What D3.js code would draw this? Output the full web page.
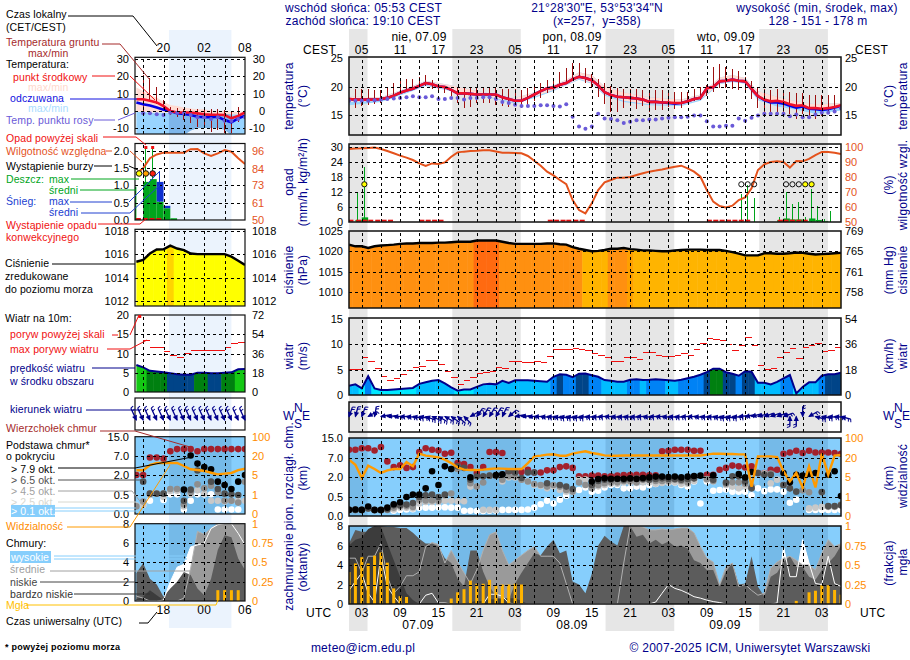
<!DOCTYPE html>
<html>
<head>
<meta charset="utf-8">
<script src="https://cdnjs.cloudflare.com/ajax/libs/d3/7.8.5/d3.min.js"></script>
<style>
  html, body { margin: 0; background: #fff; }
  svg text { font-family: "Liberation Sans", Arial, sans-serif; font-size: 12px; letter-spacing: 0.25px; white-space: pre; }
  .grid line { stroke: #000; stroke-width: 1; stroke-dasharray: 3 3; shape-rendering: crispEdges; }
  .grid path { display: none; }
  .ticks path { display: none; }
  .ticks text { letter-spacing: 0; }
  .caption { letter-spacing: 0.1px !important; }
</style>
</head>
<body>
<svg id="svg" width="910" height="660"></svg>
<script>
// ---- main meteogram, one value per hour (hour 0 = 00 UTC 07.09) ----
const mainHours = d3.range(1, 79);
const mainTemp = [17.8,17.7,17.7,17.7,17.7,17.8,18.0,18.4,18.9,19.3,19.6,20.1,20.6,20.4,20.0,19.9,19.4,18.8,18.8,18.7,18.6,18.6,18.6,18.6,18.1,17.8,17.5,17.5,18.0,18.6,19.2,19.7,19.8,20.3,20.6,21.3,21.7,21.5,21.1,20.2,19.0,18.5,18.2,18.1,18.0,17.9,17.7,17.3,17.3,17.2,17.2,17.1,17.1,17.4,17.8,18.0,19.7,19.9,20.9,21.0,21.2,21.0,20.9,19.6,18.3,17.7,17.4,17.5,17.3,16.9,16.6,16.7,16.2,16.2,16.1,16.2,16.4,16.7];
const mainFeel = [17.8,17.7,17.7,17.7,17.7,17.8,18.0,18.4,18.9,19.3,19.6,20.1,20.6,20.4,20.0,19.9,19.4,18.8,18.8,18.7,18.6,18.6,18.6,18.6,18.1,17.8,17.5,17.5,18.0,18.6,19.2,19.7,19.8,20.3,20.6,21.3,21.7,21.5,21.1,20.2,19.0,18.5,18.2,18.1,18.0,17.9,17.7,17.3,17.3,17.2,17.1,17.0,17.1,17.4,17.8,18.0,19.7,19.9,20.9,21.0,21.2,21.0,20.9,19.6,18.3,17.6,17.2,17.2,17.0,16.6,16.3,16.5,16.1,16.0,15.9,16.0,16.3,16.6];
const mainDew = [17.5,17.5,17.5,17.5,17.6,17.7,17.8,17.9,18.0,18.1,18.3,18.1,18.1,18.3,17.8,17.8,18.0,18.0,17.7,18.0,18.0,18.1,18.1,17.8,17.3,17.1,16.8,16.6,16.6,16.6,16.7,16.7,16.6,16.5,16.9,14.7,13.0,12.6,13.0,15.2,14.4,14.3,14.1,13.6,13.8,14.1,14.1,14.2,14.2,14.4,14.5,14.6,14.6,14.7,14.9,14.9,13.9,13.0,13.0,13.1,13.1,14.4,14.0,14.5,14.9,15.2,15.2,15.2,15.2,14.8,15.1,14.6,14.6,15.1,15.4,15.4,15.6,16.2];
const mainGroundMax = [null,19.5,19.5,19.5,19.4,19.4,19.9,20.6,21.3,21.3,21.3,21.7,22.0,21.2,20.3,19.7,19.5,19.7,19.7,19.9,19.9,19.7,19.7,19.7,19.5,19.5,19.5,19.4,19.7,20.3,20.6,21.2,21.5,22.6,23.3,24.2,24.1,23.2,22.2,21.3,20.6,20.1,19.7,19.6,19.6,19.5,19.4,19.3,19.3,19.3,19.0,19.0,19.0,19.1,19.5,19.9,20.3,23.5,23.9,23.5,23.0,22.8,21.7,20.9,19.7,19.5,19.4,19.5,19.4,19.0,18.8,18.8,18.5,18.5,18.5,18.5,18.5,16.8];
const mainGroundMin = [null,16.2,16.6,16.8,17.0,17.1,17.8,18.3,18.8,19.3,19.5,19.9,20.1,19.5,19.1,18.8,18.3,17.1,16.2,16.4,17.1,17.1,17.1,16.8,16.5,16.4,16.5,16.2,16.8,17.4,18.0,18.8,19.4,19.9,20.6,21.3,21.5,20.6,19.7,18.1,17.0,15.6,15.5,16.2,16.6,16.1,16.5,15.6,15.9,15.8,16.4,16.1,16.2,17.1,17.4,17.7,18.3,19.1,19.7,19.7,19.5,19.4,19.3,17.8,16.2,15.6,15.4,15.5,15.1,15.1,14.3,15.1,14.3,14.3,14.8,15.4,15.6,15.9];
const mainBandHours = [1,6,10,13,17,22,27,30,33,35,37,39,41,44,48,53,56,59,61,63,65,68,71,74,78];
const mainTempMax = [18.2,18.1,19.7,21.0,20.2,19.0,18.0,19.0,20.2,21.2,22.5,22.0,20.0,19.0,18.1,17.7,18.6,21.6,22.0,21.5,19.2,18.2,17.4,16.9,17.1];
const mainTempMin = [17.3,17.5,19.0,20.3,19.3,18.4,17.2,18.2,19.4,20.3,21.3,20.6,18.6,17.5,16.9,16.8,17.7,20.5,20.9,20.6,17.8,17.0,16.3,15.8,16.4];
const mainFeelMin = [16.7,17.3,18.8,20.1,19.2,18.3,17.0,18.0,19.2,20.2,21.2,20.5,18.4,17.3,16.7,16.6,17.5,20.4,20.8,20.5,17.6,16.5,15.9,15.2,15.8];

const mainHumidity = [98.7,99.0,99.1,99.4,99.6,98.7,97.3,95.8,94.2,92.9,91.3,89.0,87.3,89.0,88.6,89.7,93.5,96.4,96.9,97.3,97.5,97.8,97.8,97.0,96.2,96.2,96.0,95.8,94.0,90.8,87.5,83.5,81.0,77.9,75.2,64.5,57.8,55.6,62.3,71.2,76.3,77.9,79.5,79.5,79.9,81.3,82.4,83.5,84.2,85.0,85.9,86.8,87.5,85.7,83.5,80.1,71.2,63.4,60.5,59.6,60.7,64.5,66.3,72.3,84.6,88.4,90.0,90.4,90.0,86.2,90.6,90.4,92.0,94.6,96.7,96.7,96.2,95.3];
const mainRainHours = [2,3,62,63,64,68,69,70,71,72,73,74,75,76];
const mainRainMax = [12,22,11,14.8,9.4,2,12,7,7.8,2,13,6.3,1,4.4];
const mainRainMean = [0.7,1.75,0,0,0,0.6,1.3,0.9,0.9,0.3,1.3,0.7,0.3,0];
const mainConvective = [1.3,2.5,3.5,4.4,5.5,6.5,7.5,12.4,13.4,14.4,15.4,32.5,33.5,34.5,35.4,36.5,37.5,57.4,58.4,59.4,60.4,61.4,62.4,63.4,68.5,69.4,70.4,71.4,72.4];
const mainStormHours = [3.4,62.4,63.4,64.4,69.4,70.4,71.4,72.4,73.4];
const mainStormLevels = [1,0,0,0,0,0,0,1,1];

const mainPressure = [1021.6,1021.2,1021.2,1020.8,1021.2,1021.4,1021.5,1021.6,1021.8,1021.9,1021.9,1022.0,1022.0,1022.0,1022.1,1022.1,1022.2,1022.3,1022.3,1022.3,1022.6,1022.6,1022.6,1022.6,1022.3,1022.0,1021.8,1021.8,1021.8,1021.8,1021.8,1021.9,1021.9,1021.7,1021.6,1021.0,1020.6,1020.3,1020.0,1020.1,1020.3,1020.6,1020.6,1020.8,1020.5,1020.4,1020.2,1020.2,1020.1,1020.0,1020.0,1020.2,1020.3,1020.4,1020.4,1020.4,1020.3,1020.3,1020.3,1020.1,1019.8,1019.4,1019.0,1019.0,1019.0,1019.5,1019.5,1019.4,1019.4,1019.5,1019.7,1019.6,1019.4,1019.2,1019.3,1019.4,1019.5,1019.6];
const mainWind = [1.8,2.1,1.3,3.7,1.3,1.0,1.0,1.1,1.2,1.3,1.4,2.2,2.5,2.8,2.95,2.3,1.5,0.85,1.1,1.1,1.6,2.1,2.2,2.1,2.8,2.4,2.9,2.9,2.9,2.8,2.7,2.6,3.6,4.1,4.0,3.5,4.2,4.25,3.9,3.6,2.95,2.8,2.6,2.6,3.0,3.1,2.95,3.0,3.1,3.0,2.9,2.8,3.0,3.3,3.6,4.0,4.5,5.2,5.2,4.5,4.2,3.8,4.7,4.6,2.4,2.4,2.1,2.6,3.3,3.95,0.3,1.6,2.5,2.5,3.8,4.1,4.1,4.4];
const mainGust = [5.0,5.0,7.4,6.6,5.2,3.7,2.9,3.3,4.1,4.8,5.4,5.6,6.9,6.8,6.1,4.6,3.5,2.1,2.9,3.5,4.3,4.4,4.6,5.4,5.2,6.6,6.6,6.4,6.4,6.6,6.4,7.6,9.0,9.0,9.0,9.2,9.0,8.8,8.2,7.7,7.5,6.6,6.6,7.5,7.5,7.0,8.45,8.45,7.8,7.6,7.6,7.8,8.2,7.8,9.0,10.15,11.1,11.0,10.7,9.95,8.8,9.75,11.3,9.8,5.8,5.0,5.2,7.4,8.45,9.2,7.2,9.4,9.75,10.15,8.6,8.8,9.4];
const mainWindDir = [20,15,20,60,10,80,85,90,90,95,100,100,110,115,120,120,125,130,135,60,35,30,30,30,25,50,80,85,90,90,95,95,100,100,100,100,95,95,95,90,90,95,95,95,95,90,95,90,90,95,95,95,90,90,95,95,95,100,100,100,95,85,80,75,75,70,70,70,70,180,180,0,60,105,100,95,95,105];

const mainTops = [10.3,10.3,10.9,10.9,10.0,11.4,6.1,4.6,5.1,4.4,4.6,9.4,10.9,10.3,10.0,8.7,9.1,5.7,5.4,4.6,3.05,4.6,9.4,9.4,9.0,3.3,3.3,3.3,3.9,3.2,3.2,3.75,3.75,4.6,4.8,4.4,2.2,2.2,2.35,2.35,2.2,2.2,2.35,2.5,2.5,2.6,2.6,2.45,2.45,9.7,9.9,10.3,10.3,10.3,9.9,9.9,2.6,2.6,3.9,4.4,5.0,4.8,4.5,4.8,3.05,3.05,3.9,3.9,8.7,9.2,9.9,9.0,9.9,9.2,9.2,9.2,9.0,8.7];
const mainBase79 = [0.16,0.17,0.16,0.25,0.16,0.16,0.22,0.31,0.36,0.5,0.68,0.68,1.15,3.5,1.4,4.8,4.1,null,null,1.97,null,null,null,2.5,2.7,null,null,null,null,null,null,null,null,null,null,null,null,null,1.66,1.85,1.9,1.87,1.87,1.87,1.9,1.85,1.92,1.97,2.1,2.1,2.0,2.1,1.97,2.1,2.25,2.35,null,2.45,null,null,null,2.8,1.97,3.3,null,null,null,null,3.05,1.6,2.6,2.35,2.8,3.05,null,2.6,3.5,0.58];
const mainBase65 = [0.16,0.16,0.16,0.2,0.15,0.15,0.18,0.28,0.28,0.3,0.34,0.5,0.63,0.68,0.5,0.68,4.1,4.8,4.4,1.8,2.2,2.2,2.35,2.35,2.6,3.5,3.2,1.92,3.2,3.2,null,1.53,null,1.4,1.28,1.1,null,null,1.4,1.7,1.8,1.8,1.85,1.8,1.85,1.9,1.85,1.8,1.85,1.9,1.85,1.85,1.8,1.85,1.9,null,null,1.8,null,1.59,2.2,2.2,1.66,1.15,3.05,2.6,2.6,null,1.4,1.15,0.9,null,null,null,0.88,0.26,0.26,0.28];
const mainBase45 = [0.16,0.16,0.16,0.2,0.16,0.16,0.16,0.22,0.26,0.26,0.24,0.43,0.41,0.41,0.4,0.63,0.76,4.1,null,1.53,1.28,1.59,2.35,2.35,1.8,2.2,2.2,1.8,1.66,1.48,1.4,1.28,1.4,1.28,1.02,0.89,1.59,1.4,1.15,1.4,1.53,1.6,1.6,1.7,1.7,1.6,1.8,1.8,1.7,1.7,1.7,1.8,1.7,1.6,1.9,null,1.85,1.7,null,1.5,1.6,1.6,1.5,1.3,3.0,2.8,2.9,null,1.4,1.15,null,1.0,0.85,null,0.85,0.25,0.25,0.3];
const mainBase25 = [null,null,null,null,null,null,null,0.17,0.22,0.22,0.2,0.33,0.37,0.37,0.37,0.4,0.4,0.39,0.39,1.28,1.28,0.16,0.16,0.16,1.66,1.97,1.97,1.8,1.66,1.4,1.33,1.15,1.28,1.02,0.89,null,1.8,1.8,1.3,1.3,1.4,1.5,1.5,1.6,1.6,1.55,1.6,1.6,1.5,1.55,1.6,1.6,1.5,1.5,1.7,null,1.8,1.66,null,1.4,1.28,1.15,1.28,1.15,null,3.0,1.53,1.8,1.4,null,null,null,0.2,0.22,0.24,0.24,0.24,0.28];
const mainBase01 = [null,null,null,null,null,null,null,0.14,0.16,0.17,0.18,0.22,0.22,0.22,0.23,0.23,0.22,0.22,0.14,0.14,0.13,0.13,0.14,0.14,0.16,0.16,0.16,0.16,0.17,0.22,0.31,0.4,0.33,0.43,0.6,0.89,1.02,1.22,0.89,0.97,1.22,1.4,1.4,1.15,1.15,1.28,1.22,1.4,1.48,1.59,1.59,1.59,1.4,1.28,1.66,0.33,1.66,0.97,1.02,1.07,0.89,0.89,0.89,0.63,1.15,0.94,1.07,1.07,0.89,0.35,0.43,null,0.16,0.16,0.16,0.16,0.16,0.16];
const mainVisibility = [18.7,14.7,4.8,13.9,11.3,8.2,10.3,11.3,11.3,16.8,13.4,37.3,29.3,26.7,22.7,18.7,16.0,12.6,10.8,10.5,10.5,10.8,11.3,11.8,11.6,11.3,11.3,11.3,16.0,26.7,29.3,33.3,34.7,29.3,29.3,37.3,42.7,46.7,40.0,36.0,30.5,29.3,29.3,30,30,30,30,30,30,30,30,30,30,30,30,30,33.3,37.3,37.3,36,36,34.7,34.7,3.07,26.7,26.7,26.7,24,9.5,4.1,8.2,2.9,13.4,2.9,37.3,6.8,29.3,32];

const mainHigh = [1.4,2.3,3.2,1.1,0.2,5.0,1.8,0.8,0,0,0,0,0.9,1.1,0.1,0.1,0,0,0,0,0,0,1.0,1.0,0.8,0.1,0,0,0,0,0,0,0,0,0,0,0,0,0,0,0,0,0,0,0,0,0,0,0.2,1.1,2.0,1.6,1.4,1.1,0.75,0.6,0.4,0.25,0.15,0,0,0,0,0,0,0,0,0.1,5.9,2.8,2.8,6.6,4.2,2.1,2.0,4.9,2.1,1.8];
const mainMid = [4.7,4.7,3.2,4.9,4.9,6.2,2.8,1.1,1.8,2.9,2.9,3.3,5.9,6.3,6.1,4.2,5.5,4.3,3.2,2.1,3.5,5.5,7.1,7.4,5.5,4.0,4.5,5.0,5.5,5.9,4.9,4.9,4.9,4.2,2.1,0,0,0,0,0,0,0,0,4.2,8.0,8.0,7.9,7.6,7.6,7.7,7.6,7.7,7.8,7.8,7.3,5.9,4.7,4.3,2.0,3.8,4.2,1.8,2.0,1.4,0.9,1.1,3.7,4.3,4.7,4.9,4.5,4.0,4.0,3.5,5.2,6.6,5.9,6.2];
const mainLow = [6.2,7.6,7.4,7.4,7.9,8.0,7.9,7.9,7.8,7.8,7.3,6.7,6.2,6.2,5.9,4.7,4.2,2.6,1.8,5.5,5.5,3.3,1.8,0.8,0.4,0.4,2.1,3.2,4.2,5.2,5.0,5.9,6.6,5.2,5.5,2.3,2.0,1.1,3.1,6.0,7.0,6.4,6.0,8.0,8.0,6.9,7.1,6.2,6.6,6.1,6.4,5.9,6.0,5.7,4.5,4.2,3.5,3.5,1.8,3.3,4.2,2.0,2.1,4.9,1.8,0.75,2.8,3.2,4.3,4.9,3.8,3.8,2.8,2.5,3.5,4.2,4.9,6.0];
const mainVeryLow = [6.0,6.6,6.8,7.7,8.0,7.9,6.2,4.5,2.8,1.1,0.4,0,0,0,0,0,0,0,0,0.2,0.3,0.3,0.5,0.5,0.6,0.6,0.6,0.3,0,0,0,0,0,0,0,0,0,0,0,0,0,0,0,0,0,0,0,0,0,0,0,0,0,0,0,0,0,0,0,0,0,0,0,0,0,0,0,0,0,0,0,0,0,0,0,0,0,0];
const mainFog = [0.41,0.52,0.6,0.52,0.62,0.66,0.53,0.2,0.1,0.09,0,0,0,0,0,0,0.07,0.15,0.19,0.3,0.26,0.26,0.31,0.24,0.25,0.25,0.26,0.25,0,0,0,0,0,0,0,0,0,0,0,0,0,0,0,0,0,0,0,0,0,0,0,0,0,0,0,0,0,0,0,0,0,0,0,0,0,0,0,0,0,0,0.04,0,0.15,0.17,0.24,0.24,0.18,0.12];

// ---- legend meteogram on the left, hours 14..30 ----
const leftHours = d3.range(14, 31);
const leftTemp = [6.7,6.7,5.8,4.8,2.7,-0.2,-1,-1,-1,-1.5,-2.1,-2.3,-2.3,-2.5,-4.4,-3,-1];
const leftFeel = [4.8,3.8,3.0,1.9,0.6,-0.2,-1.5,-1.9,-2.5,-3.5,-3.8,-3.8,-3.5,-5.4,-6.7,-4.4,-2.9];
const leftDew = [null,-1.5,-1.5,-2.1,-2.5,-1.2,-1.2,-1.5,-2.5,-3.8,-3.8,-4.8,-3.8,-5.8,-6.0,-4.8,-3.8];
const leftGroundMax = [null,20.6,18.7,13.5,6.2,1.9,1.7,1.3,1.3,1.3,1.3,1.3,0.8,0.4,-0.6,2.3,null];
const leftGroundMin = [null,-1.5,6.2,4.2,0.4,-2.5,-3.5,-5.4,-7.3,-9.2,-10.2,-12.1,-11.2,-13,-12.7,-6.3,null];
const leftTempMax = [13.5,11.5,9,7.7,5.2,3.3,2.7,1.9,1.3,0.8,0.8,0,0,-0.2,-0.6,-0.8,-0.2];
const leftTempMin = [-0.6,-0.6,-1,-1,-1,-1.2,-1.5,-1.5,-1.5,-1.7,-1.7,-1.7,-1.9,-1.9,-2.1,-2,-2];
const leftFeelMin = [-14,-14,-14,-14,-14,-14,-14,-14,-11.5,-10,-10,-10,-10,-11,-14,-14,-14];
const leftHumidity = [81,84.3,91,93.5,94.7,94.7,94.7,94.7,97,97.1,94.2,92.5,94.2,96.4,95.3,91,87.2];
const leftRainHours = [13.8,15,16,17,18,19];
const leftRainMean = [0.96,1.1,1.18,0.53,0.34,0.05];
const leftSnowMean = [0,0,0,0.57,0.07,0];
const leftRainMax = [1.4,2.1,2.1,0,0,0];
const leftSnowMax = [0,0,0,1.4,0,0];
const leftConvective = [14.3,15.3,16.3,17.3];
const leftStormHours = [14.4,15.4,16.4];
const leftStormLevels = [1,2,3];
const leftOverRain = [15.4,16.4];
const leftPressure = [1015.35,1015.5,1016.05,1016.4,1016.42,1016.73,1016.48,1016.34,1016.05,1016,1016,1016,1016,1016,1015.78,1015.44,1015.07];
const leftWind = [7,6.4,5.5,5.3,5.1,4.9,4.6,4.5,4.5,5.0,5.0,4.9,4.9,5.0,5.1,5.9,6.0];
const leftGust = [null,13.4,11.6,11.6,10.6,9.6,8.9,9.9,10.8,10.9,10.9,10.7,10.7,11.6,12.6,12.9];
const leftOverGust = [14.5];
const leftWindDir = [335,335,335,335,335,335,335,335,335,335,335,335,335,335,335,335,335];
const leftTops = [2,2,6.6,6.6,6.3,9,9.9,9.9,9.9,9,9.9,9.9,9.9,9.9,9.9,9.9,9.9];
const leftBase79 = [null,null,null,null,null,null,null,0.9,7.2,5,4.1,3.5,1.5,1.25,0.95,1.5,2];
const leftBase65 = [null,1.5,0.6,0.6,0.6,null,null,0.35,0.9,3.2,null,1.5,0.95,0.6,0.55,0.5,null];
const leftBase45 = [0.2,0.33,0.6,null,0.6,0.95,0.95,0.25,0.7,1.3,1,1.2,0.7,0.35,0.35,0.3,1.5];
const leftBase25 = [0.22,0.24,0.5,0.6,0.45,0.8,0.82,0.2,0.55,0.85,0.6,0.35,0.35,0.33,0.35,0.35,0.35];
const leftBase01 = [null,0.24,0.35,null,0.37,0.55,0.55,0.12,0.35,0.55,0.55,0.55,0.12,0.12,0.12,0.12,null];
const leftVisibility = [8.7,8.7,12.9,14.5,14.5,14.5,14.5,12.1,9.5,8.9,8.2,6.8,5.5,6.1,6.6,8.9,10];
const leftHigh = [0,0,0,0,0.1,2,3.5,3.8,5.6,5.8,6,7.5,7.9,8,8,7,5.8];
const leftMid = [0.5,0.3,0,0,0,0,0,0.3,3.4,7.2,6.9,7.5,8,8,8,8,8];
const leftLow = [2.9,3.9,2.3,1.7,0.45,1.3,2,3,2.7,1.3,0.6,2.3,5.3,6.8,6.6,4.4,3.2];
const leftVeryLow = [0.2,0.45,1.1,0.6,0.1,0,0,0,0,0,0,0,0,0,0,0,0];
const leftFog = [0,0,0,0,0,0,0,0,0,0,0,0,0.14,0.14,0.14,0.14,0];

// night bands, hours
const mainNights = [[1,3.9],[17.17,27.88],[41.15,51.9],[65.2,75.95]];
const leftNights = [[18.8,28]];

// tick labels
const tempTicksMain = [15,20,25];
const tempTicksLeft = [-10,0,10,20,30];
const rainTicksMain = [0,6,12,18,24,30];
const humTicksMain = [50,60,70,80,90,100];
const rainTicksLeft = [0,0.5,1,1.5,2];
const humTicksLeft = [50,61,73,84,96];
const pressTicksMain = [1010,1015,1020,1025];
const mmHgLabels = [758,761,765,769];
const pressTicksLeft = [1012,1014,1016,1018];
const windTicksMain = [0,5,10,15];
const kmhTicksMain = [0,18,36,54];
const windTicksLeft = [0,5,10,15,20];
const kmhTicksLeft = [0,18,36,54,72];
const heightTicks = [0,0.5,2,7,15];
const visTicks = [0,1,5,20,100];
const coverTicks = [0,2,4,6,8];
const fracTicks = [0,0.25,0.5,0.75,1];
const hourLabels = d3.range(3, 78, 6);
const cestLabels = ["05","11","17","23","05","11","17","23","05","11","17","23","05"];
const utcLabels = ["03","09","15","21","03","09","15","21","03","09","15","21","03"];

const NAVY = "#00008b";
const svg = d3.select("#svg");
let clipCount = 0;

const pressColor = d3.scaleThreshold()
    .domain([1016.6, 1017.5, 1020.45, 1020.55, 1022.35])
    .range(["#ffff00", "#ffd400", "#ffb400", "#ffa000", "#ff9010", "#ff6a10"]);
const windColor = d3.scaleThreshold()
    .domain([1.5, 3, 4.05, 5, 5.8])
    .range(["#00e8ff", "#00bcff", "#0082f5", "#004488", "#008010", "#14c814"]);
const stormColor = d3.scaleOrdinal().domain([0,1,2,3]).range(["none", "#ffff00", "#ffa000", "#ff2010"]);

// one panel: group clipped to its box, with frame and grid added at the end
function makePanel(frame, box) {
    const id = "clip" + (clipCount++);
    svg.append("clipPath").attr("id", id).append("rect")
        .attr("x", frame.x0).attr("y", box.top)
        .attr("width", frame.x1 - frame.x0).attr("height", box.bottom - box.top);
    return svg.append("g").attr("clip-path", `url(#${id})`);
}

function finishPanel(frame, box, yScale, yTicks) {
    const w = frame.x1 - frame.x0;
    const h = box.bottom - box.top;
    svg.append("g").attr("class", "grid")
        .attr("transform", `translate(0,${box.bottom})`)
        .call(d3.axisBottom(frame.x).tickValues(frame.gridHours).tickSize(-h).tickFormat(""));
    if (yScale) {
        svg.append("g").attr("class", "grid")
            .attr("transform", `translate(${frame.x0},0)`)
            .call(d3.axisLeft(yScale).tickValues(yTicks.filter(t => yScale(t) > box.top + 1 && yScale(t) < box.bottom - 1))
                .tickSize(-w).tickFormat(""));
    }
    svg.append("rect").attr("x", frame.x0).attr("y", box.top).attr("width", w).attr("height", h)
        .attr("fill", "none").attr("stroke", "#111").attr("stroke-width", frame.frameWidth);
}

function leftAxis(frame, scale, ticks, fmt) {
    const g = svg.append("g").attr("class", "ticks")
        .attr("transform", `translate(${frame.x0 - 6},0)`)
        .call(d3.axisLeft(scale).tickValues(ticks).tickSize(0).tickPadding(0).tickFormat(fmt || (d => d)));
    g.selectAll("text").attr("fill", "#000").style("font-size", "11px");
}

function rightAxis(frame, scale, ticks, fmt, color, anchorEnd) {
    const g = svg.append("g").attr("class", "ticks")
        .attr("transform", `translate(${frame.x1 + (frame.rightGap || 4)},0)`)
        .call(d3.axisRight(scale).tickValues(ticks).tickSize(0).tickPadding(0).tickFormat(fmt || (d => d)));
    g.selectAll("text").attr("fill", color || "#000").style("font-size", "11px");
    if (anchorEnd) g.selectAll("text").attr("text-anchor", "end").attr("dx", 13);
}

function valuePoints(hours, values) {
    return hours.map((h, i) => ({ h, v: values[i] })).filter(d => d.v !== null && d.v !== undefined);
}

function drawTemp(frame, d, box, y, ticks) {
    const g = makePanel(frame, box);
    const band = (parent, lo, hi, fill) => {
        parent.append("path").datum(d.bandHours.map((h, i) => ({ h, lo: lo[i], hi: hi[i] })))
            .attr("fill", fill)
            .attr("d", d3.area().x(p => frame.x(p.h)).y0(p => y(p.lo)).y1(p => y(p.hi)));
    };
    band(g, d.feelMin, d.feelTop, "#98d4ff");
    if (frame.nightBandFill) {
        // the night stripe shows through the blue band
        const nightId = "clip" + (clipCount++);
        svg.append("clipPath").attr("id", nightId).selectAll("rect").data(frame.nights).join("rect")
            .attr("x", n => frame.x(n[0])).attr("width", n => frame.x(n[1]) - frame.x(n[0]))
            .attr("y", box.top).attr("height", box.bottom - box.top);
        band(g.append("g").attr("clip-path", `url(#${nightId})`), d.feelMin, d.feelTop, frame.nightBandFill);
    }
    band(g, d.tempMin, d.tempMax, "#ffdcd4");

    const sticks = valuePoints(d.hours, d.groundMax);
    g.selectAll(".ground").data(sticks).join("line")
        .attr("stroke", "#9c1010").attr("stroke-width", 1).attr("shape-rendering", "crispEdges")
        .attr("x1", p => frame.x(p.h)).attr("x2", p => frame.x(p.h))
        .attr("y1", p => y(p.v)).attr("y2", p => y(d.groundMin[d.hours.indexOf(p.h)]));

    const line = d3.line().x(p => frame.x(p.h)).y(p => y(p.v));
    g.append("path").datum(valuePoints(d.hours, d.feel)).attr("fill", "none")
        .attr("stroke", "#0000e6").attr("stroke-width", 2.6).attr("d", line);
    g.append("path").datum(valuePoints(d.hours, d.temp)).attr("fill", "none")
        .attr("stroke", "#f0102a").attr("stroke-width", 2.6).attr("d", line);
    g.selectAll(".dew").data(valuePoints(d.hours, d.dew)).join("circle")
        .attr("fill", "#6a5ad8").attr("r", 2)
        .attr("cx", p => frame.x(p.h)).attr("cy", p => y(p.v));
    finishPanel(frame, box, y, ticks);
}

function drawRain(frame, d, box, yRain, yHum, rainTicks) {
    const g = makePanel(frame, box);
    const x = frame.x;
    const rows = d.rainHours.map((h, i) => ({
        h, max: d.rainMax[i], mean: d.rainMean[i],
        snow: d.snowMean ? d.snowMean[i] : 0, snowMax: d.snowMax ? d.snowMax[i] : 0
    }));
    g.selectAll(".rainbar").data(rows).join("rect").attr("fill", "#00a51c")
        .attr("x", r => x(r.h)).attr("width", r => x(Math.floor(r.h) + 1) - x(r.h))
        .attr("y", r => yRain(r.mean)).attr("height", r => yRain(0) - yRain(r.mean));
    g.selectAll(".snowbar").data(rows).join("rect").attr("fill", "#1030d0")
        .attr("x", r => x(r.h)).attr("width", r => x(Math.floor(r.h) + 1) - x(r.h))
        .attr("y", r => yRain(r.mean + r.snow)).attr("height", r => yRain(r.mean) - yRain(r.mean + r.snow));
    g.selectAll(".rainmax").data(rows.filter(r => r.max > 0)).join("line")
        .attr("stroke", "#00a51c").attr("stroke-width", 1).attr("shape-rendering", "crispEdges")
        .attr("x1", r => x(Math.floor(r.h) + 0.4)).attr("x2", r => x(Math.floor(r.h) + 0.4))
        .attr("y1", r => yRain(r.max)).attr("y2", yRain(0));
    g.selectAll(".snowmax").data(rows.filter(r => r.snowMax > 0)).join("line")
        .attr("stroke", "#1030d0").attr("stroke-width", 1).attr("shape-rendering", "crispEdges")
        .attr("x1", r => x(Math.floor(r.h) + 0.4)).attr("x2", r => x(Math.floor(r.h) + 0.4))
        .attr("y1", r => yRain(r.snowMax)).attr("y2", r => yRain(r.mean));
    g.selectAll(".conv").data(d.convective).join("rect").attr("fill", "#e01010")
        .attr("x", h => x(h) - 2.5).attr("width", 5).attr("height", 2).attr("y", yRain(0) - 2);
    g.append("path").datum(valuePoints(d.hours, d.humidity)).attr("fill", "none")
        .attr("stroke", "#e4521c").attr("stroke-width", 2)
        .attr("d", d3.line().x(p => x(p.h)).y(p => yHum(p.v)));
    finishPanel(frame, box, yRain, rainTicks);
    svg.selectAll(null).data(d.stormHours).join("circle")
        .attr("cx", h => x(h)).attr("cy", d.stormY).attr("r", frame.stormR)
        .attr("stroke", "#111").attr("stroke-width", 1)
        .attr("fill", (h, i) => stormColor(d.stormLevels[i]));
    if (d.overRain) {
        svg.selectAll(null).data(d.overRain).join("rect").attr("fill", "#f01010")
            .attr("x", h => x(h) - 1.5).attr("y", box.top + 2.5).attr("width", 3).attr("height", 3);
    }
}

function drawPressure(frame, d, box, y, ticks) {
    const pts = valuePoints(d.hours, d.pressure);
    const id = "clip" + (clipCount++);
    svg.append("clipPath").attr("id", id).append("path").datum(pts)
        .attr("d", d3.area().x(p => frame.x(p.h)).y0(box.bottom).y1(p => y(p.v)));
    svg.append("g").attr("clip-path", `url(#${id})`)
        .selectAll("rect").data(pts).join("rect")
        .attr("x", p => frame.x(p.h - 0.5)).attr("width", p => frame.x(p.h + 0.5) - frame.x(p.h - 0.5) + 0.5)
        .attr("y", box.top).attr("height", box.bottom - box.top)
        .attr("fill", p => pressColor(p.v));
    const g = makePanel(frame, box);
    g.append("path").datum(pts).attr("fill", "none").attr("stroke", "#000").attr("stroke-width", 2.4)
        .attr("d", d3.line().x(p => frame.x(p.h)).y(p => y(p.v)));
    finishPanel(frame, box, y, ticks);
}

function drawWind(frame, d, box, y, ticks) {
    const pts = valuePoints(d.hours, d.wind);
    const id = "clip" + (clipCount++);
    const g = makePanel(frame, box);
    svg.append("clipPath").attr("id", id).append("path").datum(pts)
        .attr("d", d3.area().x(p => frame.x(p.h)).y0(box.bottom).y1(p => y(p.v)));
    g.append("g").attr("clip-path", `url(#${id})`)
        .selectAll("rect").data(pts).join("rect")
        .attr("x", p => frame.x(p.h - 0.5)).attr("width", p => frame.x(p.h + 0.5) - frame.x(p.h - 0.5) + 0.5)
        .attr("y", box.top).attr("height", box.bottom - box.top)
        .attr("fill", p => windColor(p.v));
    g.append("path").datum(pts).attr("fill", "none").attr("stroke", "#00008c").attr("stroke-width", 2)
        .attr("d", d3.line().x(p => frame.x(p.h)).y(p => y(p.v)));
    g.selectAll(".gust").data(valuePoints(d.hours, d.gust)).join("line")
        .attr("stroke", "#f01010").attr("stroke-width", 1).attr("shape-rendering", "crispEdges")
        .attr("x1", p => frame.x(p.h)).attr("x2", p => frame.x(p.h + 1))
        .attr("y1", p => y(p.v)).attr("y2", p => y(p.v));
    finishPanel(frame, box, y, ticks);
    if (d.overGust) {
        svg.selectAll(null).data(d.overGust).join("rect").attr("fill", "#f01010")
            .attr("x", h => frame.x(h) - 1.5).attr("y", box.top).attr("width", 3).attr("height", 3);
    }
}

function drawDirection(frame, d, box, len, cy) {
    finishPanel(frame, box);
    const g = svg.append("g");
    const arrows = g.selectAll("g").data(valuePoints(d.hours, d.windDir)).join("g")
        .attr("transform", p => `translate(${frame.x(p.h)},${cy}) rotate(${p.v})`);
    // pointing up in local coordinates = towards where the wind comes from
    arrows.append("line").attr("x1", 0).attr("y1", 0).attr("x2", 0).attr("y2", -len)
        .attr("stroke", NAVY).attr("stroke-width", 1.3);
    arrows.append("path").attr("fill", NAVY).attr("d", "M0,1 L-2.6,-4.5 L2.6,-4.5 Z");
    arrows.append("path").attr("fill", "none").attr("stroke", NAVY).attr("stroke-width", 1)
        .attr("d", `M0,${-len} l3,-1 M0,${-len * 0.75} l3,-1`);
}

function drawBase(frame, d, box, y, yVis, ticks) {
    const g = svg.append("g");
    g.append("rect").attr("x", frame.x0).attr("y", box.top)
        .attr("width", frame.x1 - frame.x0).attr("height", box.bottom - box.top).attr("fill", "#86cefc");
    addSkyNight(g, frame, box);
    const clip = makePanel(frame, box);
    const series = [[d.tops, "#a3202c"], [d.base01, "#ffffff"], [d.base25, "#c8c8c8"],
                    [d.base45, "#8e8e8e"], [d.base65, "#505050"], [d.base79, "#000000"]];
    series.forEach(([values, color]) => {
        clip.selectAll(null).data(valuePoints(d.hours, values)).join("circle")
            .attr("fill", color).attr("r", 3.3)
            .attr("cx", p => frame.x(p.h)).attr("cy", p => y(p.v));
    });
    clip.append("path").datum(valuePoints(d.hours, d.visibility)).attr("fill", "none")
        .attr("stroke", "#ff9a00").attr("stroke-width", 2.4)
        .attr("d", d3.line().x(p => frame.x(p.h)).y(p => yVis(p.v)));
    finishPanel(frame, box, y, ticks);
}

function addSkyNight(g, frame, box) {
    g.selectAll(null).data(frame.nights).join("rect")
        .attr("x", n => frame.x(n[0])).attr("width", n => frame.x(n[1]) - frame.x(n[0]))
        .attr("y", box.top).attr("height", box.bottom - box.top)
        .attr("fill", "#00285e").attr("opacity", 0.12);
}

function drawCover(frame, d, box, y, yFrac, ticks) {
    const g = svg.append("g");
    g.append("rect").attr("x", frame.x0).attr("y", box.top)
        .attr("width", frame.x1 - frame.x0).attr("height", box.bottom - box.top).attr("fill", "#86cefc");
    addSkyNight(g, frame, box);
    const clip = makePanel(frame, box);
    const area = d3.area().x(p => frame.x(p.h)).y0(y(0)).y1(p => y(p.v));
    const layer = (values, color) => clip.append("path")
        .datum(valuePoints(d.hours, values)).attr("fill", color).attr("d", area);
    layer(d.high, "#ffffff");
    layer(d.mid, "#9a9a9a");
    layer(d.low, "#5c5c5c");
    layer(d.veryLow, "#3c3c3c");
    const line = d3.line().x(p => frame.x(p.h)).y(p => y(p.v));
    clip.append("path").datum(valuePoints(d.hours, d.mid)).attr("fill", "none")
        .attr("stroke", "#b0b0b0").attr("stroke-width", 1).attr("d", line);
    clip.append("path").datum(valuePoints(d.hours, d.high)).attr("fill", "none")
        .attr("stroke", "#fff").attr("stroke-width", 1).attr("d", line);
    clip.selectAll(".fog").data(valuePoints(d.hours, d.fog).filter(p => p.v > 0)).join("rect")
        .attr("fill", "#ffb400").attr("width", 3).attr("x", p => frame.x(p.h) - 1.5)
        .attr("y", p => yFrac(p.v)).attr("height", p => yFrac(0) - yFrac(p.v));
    finishPanel(frame, box, y, ticks);
}

// ---- frames ----
const mainFrame = {
    x: d3.scaleLinear().domain([1, 78]).range([349, 841]),
    x0: 349, x1: 841, gridHours: d3.range(3, 78, 3), nights: mainNights,
    stormR: 2.6, frameWidth: 1.5, rightGap: 4
};
const leftFrame = {
    x: d3.scaleLinear().domain([13.8, 30]).range([135, 245]),
    x0: 135, x1: 245, gridHours: [15, 18, 21, 24, 27], nights: leftNights,
    stormR: 2.8, frameWidth: 1.2, rightGap: 7, nightBandFill: "#7eb6ea"
};

// night stripes behind everything
svg.selectAll(null).data(mainNights).join("rect")
    .attr("x", n => mainFrame.x(n[0])).attr("width", n => mainFrame.x(n[1]) - mainFrame.x(n[0]))
    .attr("y", 29).attr("height", 602).attr("fill", "#e6e6e6");
svg.selectAll(null).data(leftNights).join("rect")
    .attr("x", n => leftFrame.x(n[0])).attr("width", n => leftFrame.x(n[1]) - leftFrame.x(n[0]))
    .attr("y", 30).attr("height", 598).attr("fill", "#ebf3fd");

const mainData = {
    hours: mainHours, temp: mainTemp, feel: mainFeel, dew: mainDew,
    groundMax: mainGroundMax, groundMin: mainGroundMin,
    bandHours: mainBandHours, tempMax: mainTempMax, tempMin: mainTempMin,
    feelMin: mainFeelMin, feelTop: mainTempMax,
    humidity: mainHumidity, rainHours: mainRainHours, rainMax: mainRainMax, rainMean: mainRainMean,
    convective: mainConvective, stormHours: mainStormHours, stormLevels: mainStormLevels, stormY: 184.3,
    pressure: mainPressure, wind: mainWind, gust: mainGust, windDir: mainWindDir,
    tops: mainTops, base79: mainBase79, base65: mainBase65, base45: mainBase45, base25: mainBase25, base01: mainBase01,
    visibility: mainVisibility, high: mainHigh, mid: mainMid, low: mainLow, veryLow: mainVeryLow, fog: mainFog
};
const leftData = {
    hours: leftHours, temp: leftTemp, feel: leftFeel, dew: leftDew,
    groundMax: leftGroundMax, groundMin: leftGroundMin,
    bandHours: leftHours, tempMax: leftTempMax, tempMin: leftTempMin,
    feelMin: leftFeelMin, feelTop: leftTempMin,
    humidity: leftHumidity, rainHours: leftRainHours, rainMax: leftRainMax, rainMean: leftRainMean,
    snowMean: leftSnowMean, snowMax: leftSnowMax, overRain: leftOverRain,
    convective: leftConvective, stormHours: leftStormHours, stormLevels: leftStormLevels, stormY: 173.5,
    pressure: leftPressure, wind: leftWind, gust: leftGust, overGust: leftOverGust, windDir: leftWindDir,
    tops: leftTops, base79: leftBase79, base65: leftBase65, base45: leftBase45, base25: leftBase25, base01: leftBase01,
    visibility: leftVisibility, high: leftHigh, mid: leftMid, low: leftLow, veryLow: leftVeryLow, fog: leftFog
};

// ---- main panels ----
const mT = d3.scaleLinear().domain([15, 25]).range([115, 58]);
const mR = d3.scaleLinear().domain([0, 30]).range([221.7, 147]);
const mH = d3.scaleLinear().domain([50, 100]).range([221.7, 147]);
const mP = d3.scaleLinear().domain([1010, 1025]).range([292.3, 230.7]);
const mW = d3.scaleLinear().domain([0, 15]).range([395, 319]);
const mK = d3.scaleLinear().domain([0, 54]).range([395, 319]);
const mB = d3.scaleLinear().domain(heightTicks).range([516, 497, 477, 458, 438]);
const mV = d3.scaleLinear().domain(visTicks).range([516, 497, 477, 458, 438]);
const mC = d3.scaleLinear().domain([0, 8]).range([604, 526]);
const mF = d3.scaleLinear().domain([0, 1]).range([604, 526]);

drawTemp(mainFrame, mainData, { top: 57, bottom: 135 }, mT, tempTicksMain);
drawRain(mainFrame, mainData, { top: 144, bottom: 222 }, mR, mH, rainTicksMain);
drawPressure(mainFrame, mainData, { top: 231, bottom: 308 }, mP, pressTicksMain);
drawWind(mainFrame, mainData, { top: 318, bottom: 395 }, mW, windTicksMain);
drawDirection(mainFrame, mainData, { top: 402, bottom: 432 }, 10, 416.5);
drawBase(mainFrame, mainData, { top: 438, bottom: 516 }, mB, mV, heightTicks);
drawCover(mainFrame, mainData, { top: 526, bottom: 604 }, mC, mF, coverTicks);

leftAxis(mainFrame, mT, tempTicksMain); rightAxis(mainFrame, mT, tempTicksMain);
leftAxis(mainFrame, mR, rainTicksMain); rightAxis(mainFrame, mH, humTicksMain, null, "#e4521c");
leftAxis(mainFrame, mP, pressTicksMain);
rightAxis(mainFrame, mP, pressTicksMain, (v, i) => mmHgLabels[i]);
leftAxis(mainFrame, mW, windTicksMain); rightAxis(mainFrame, mK, kmhTicksMain);
leftAxis(mainFrame, mB, heightTicks, d3.format(".1f")); rightAxis(mainFrame, mV, visTicks, null, "#ff8c00");
leftAxis(mainFrame, mC, coverTicks); rightAxis(mainFrame, mF, fracTicks, null, "#ff8c00");

// ---- legend panels ----
const lT = d3.scaleLinear().domain([-10, 30]).range([128, 59]);
const lR = d3.scaleLinear().domain([0, 2]).range([220, 150.7]);
const lH = d3.scaleLinear().domain([50, 96]).range([220, 150.7]);
const lP = d3.scaleLinear().domain([1012, 1018]).range([301, 230.7]);
const lW = d3.scaleLinear().domain([0, 20]).range([392, 315]);
const lK = d3.scaleLinear().domain([0, 72]).range([392, 315]);
const lB = d3.scaleLinear().domain(heightTicks).range([514, 495, 475, 456, 437]);
const lV = d3.scaleLinear().domain(visTicks).range([514, 495, 475, 456, 437]);
const lC = d3.scaleLinear().domain([0, 8]).range([601, 523.7]);
const lF = d3.scaleLinear().domain([0, 1]).range([601, 523.7]);

drawTemp(leftFrame, leftData, { top: 57.3, bottom: 134 }, lT, tempTicksLeft);
drawRain(leftFrame, leftData, { top: 143.5, bottom: 220 }, lR, lH, rainTicksLeft);
drawPressure(leftFrame, leftData, { top: 229.3, bottom: 306 }, lP, pressTicksLeft);
drawWind(leftFrame, leftData, { top: 315, bottom: 392 }, lW, windTicksLeft);
drawDirection(leftFrame, leftData, { top: 398, bottom: 430 }, 13, 420);
drawBase(leftFrame, leftData, { top: 436.7, bottom: 514 }, lB, lV, heightTicks);
drawCover(leftFrame, leftData, { top: 523.7, bottom: 601 }, lC, lF, coverTicks);

leftAxis(leftFrame, lT, tempTicksLeft); rightAxis(leftFrame, lT, tempTicksLeft, null, "#000", true);
leftAxis(leftFrame, lR, rainTicksLeft, d3.format(".1f")); rightAxis(leftFrame, lH, humTicksLeft, null, "#e4521c");
leftAxis(leftFrame, lP, pressTicksLeft); rightAxis(leftFrame, lP, pressTicksLeft);
leftAxis(leftFrame, lW, windTicksLeft); rightAxis(leftFrame, lK, kmhTicksLeft);
leftAxis(leftFrame, lB, heightTicks, d3.format(".1f")); rightAxis(leftFrame, lV, visTicks, null, "#ff8c00");
leftAxis(leftFrame, lC, coverTicks); rightAxis(leftFrame, lF, fracTicks, null, "#ff8c00");

// ---- time labels ----
function text(str, x, y, opts = {}) {
    return svg.append("text").attr("x", x).attr("y", y)
        .attr("text-anchor", opts.anchor || "start")
        .attr("fill", opts.color || "#000")
        .attr("class", opts.cls || null)
        .style("font-size", opts.size || "12px")
        .style("font-weight", opts.weight || "normal")
        .text(str);
}
hourLabels.forEach((h, i) => {
    text(cestLabels[i], mainFrame.x(h), 54, { anchor: "middle" });
    text(utcLabels[i], mainFrame.x(h), 617, { anchor: "middle" });
});
text("nie, 07.09", 419, 41, { anchor: "middle" });
text("pon, 08.09", 572, 41, { anchor: "middle" });
text("wto, 09.09", 726, 41, { anchor: "middle" });
text("07.09", 418, 629, { anchor: "middle" });
text("08.09", 572, 629, { anchor: "middle" });
text("09.09", 725, 629, { anchor: "middle" });
text("CEST", 303, 54); text("CEST", 855, 54);
text("UTC", 306, 617); text("UTC", 860, 617);
text("20", leftFrame.x(18), 52, { anchor: "middle" });
text("02", leftFrame.x(24), 52, { anchor: "middle" });
text("08", 245, 52, { anchor: "middle" });
text("18", leftFrame.x(18), 614, { anchor: "middle" });
text("00", leftFrame.x(24), 614, { anchor: "middle" });
text("06", 245, 614, { anchor: "middle" });

// ---- header and footer ----
text("wschód słońca: 05:53 CEST", 363.5, 12, { anchor: "middle", color: NAVY });
text("zachód słońca: 19:10 CEST", 363, 25, { anchor: "middle", color: NAVY });
text("21°28'30\"E, 53°53'34\"N", 597, 12, { anchor: "middle", color: NAVY });
text("(x=257,  y=358)", 597, 25, { anchor: "middle", color: NAVY });
text("wysokość (min, środek, max)", 817, 12, { anchor: "middle", color: NAVY });
text("128 - 151 - 178 m", 818, 25, { anchor: "middle", color: NAVY });
text("meteo@icm.edu.pl", 363, 652, { anchor: "middle", color: NAVY });
text("© 2007-2025 ICM, Uniwersytet Warszawski", 750, 652, { anchor: "middle", color: NAVY });
text("* powyżej poziomu morza", 5, 650, { size: "9px", weight: "bold" });

// ---- rotated axis titles ----
function vtext(str, x, y) {
    svg.append("text").attr("transform", `translate(${x},${y}) rotate(-90)`)
        .attr("text-anchor", "middle").attr("fill", NAVY).style("font-size", "12px").text(str);
}
const titleRows = [
    ["temperatura", 96, "(°C)", 96, "(°C)", 96, "temperatura", 96],
    ["opad", 182, "(mm/h, kg/m²/h)", 182, "(%)", 185, "wilgotność wzgl.", 185],
    ["ciśnienie", 270, "(hPa)", 270, "(mm Hg)", 270, "ciśnienie", 270],
    ["wiatr", 356, "(m/s)", 356, "(km/h)", 356, "wiatr", 356],
    ["pion. rozciągł. chm.", 476, "(km)", 478, "(km)", 478, "widzialność", 476],
    ["zachmurzenie", 572, "(oktanty)", 567, "(frakcja)", 563, "mgła", 562]
];
titleRows.forEach(r => {
    vtext(r[0], 293, r[1]); vtext(r[2], 307, r[3]);
    vtext(r[4], 893, r[5]); vtext(r[6], 907, r[7]);
});
[283, 883].forEach(dx => {
    const g = svg.append("g").attr("transform", `translate(${dx},0)`);
    [["W", 0, 420], ["N", 11, 412], ["E", 19, 420], ["S", 11, 428]].forEach(t => {
        g.append("text").attr("x", t[1]).attr("y", t[2]).attr("fill", NAVY).style("font-size", "12px").text(t[0]);
    });
});

// ---- legend captions with leader lines ----
const captions = [
    ["Czas lokalny", 6, 18, "#000"], ["(CET/CEST)", 6, 31, "#000"],
    ["Temperatura gruntu", 6, 46, "#a52a2a"], ["max/min", 28, 57, "#a52a2a"],
    ["Temperatura:", 6, 68, "#000"], ["punkt środkowy", 13, 81, "#f01010"],
    ["max/min", 28, 91, "#ffd8cc"], ["odczuwana", 10, 102, "#1010e0"],
    ["max/min", 28, 112, "#a8dcff"], ["Temp. punktu rosy", 6, 124, "#6a5ad8"],
    ["Opad powyżej skali", 6, 142, "#f01010"], ["Wilgotność względna", 6, 155, "#e4521c"],
    ["Wystąpienie burzy", 6, 170, "#000"], ["Deszcz:", 6, 183, "#00a51c"],
    ["max", 49, 183, "#00a51c"], ["średni", 49, 194, "#00a51c"],
    ["Śnieg:", 6, 205, "#2040d0"], ["max", 49, 205, "#2040d0"], ["średni", 49, 216, "#2040d0"],
    ["Wystąpienie opadu", 6, 229, "#f01010"], ["konwekcyjnego", 6, 241, "#f01010"],
    ["Ciśnienie", 5, 267, "#000"], ["zredukowane", 5, 280, "#000"], ["do poziomu morza", 5, 293, "#000"],
    ["Wiatr na 10m:", 5, 322, "#000"], ["poryw powyżej skali", 10, 338, "#f01010"],
    ["max porywy wiatru", 10, 353, "#f01010"], ["prędkość wiatru", 10, 372, NAVY],
    ["w środku obszaru", 10, 385, NAVY], ["kierunek wiatru", 10, 413, NAVY],
    ["Wierzchołek chmur", 6, 432, "#a52a2a"], ["Podstawa chmur*", 6, 449, "#000"],
    ["o pokryciu", 6, 460, "#000"], ["> 7.9 okt.", 11, 473, "#000"], ["> 6.5 okt.", 11, 484, "#505050"],
    ["> 4.5 okt.", 11, 495, "#a0a0a0"], ["> 2.5 okt.", 11, 506, "#d8d8d0"],
    ["Widzialność", 6, 530, "#ff8c00"], ["Chmury:", 6, 547, "#000"],
    ["średnie", 10, 573, "#a0a0a0"], ["niskie", 10, 586, "#444"], ["bardzo niskie", 10, 598, "#333"],
    ["Mgła", 6, 609, "#ffc000"], ["Czas uniwersalny (UTC)", 6, 625, "#000"]
];
const leaders = [
    ["#000", [[68,16],[133,16],[157,46]]],
    ["#a52a2a", [[102,44],[120,44],[150,80]]],
    ["#f01010", [[92,76],[115,76]]], ["#f01010", [[130,76],[155,100]]],
    ["#1010e0", [[70,99],[137,99]]],
    ["#6a5ad8", [[94,120],[115,120]]], ["#6a5ad8", [[118,120],[135,113]]],
    ["#f01010", [[103,137],[136,137],[146,145]]],
    ["#e4521c", [[106,151],[112,151]]], ["#e4521c", [[130,151],[142,162]]],
    ["#000", [[94,166],[112,166]]], ["#000", [[129,166],[138,170]]],
    ["#00a51c", [[71,179],[139,179]]], ["#00a51c", [[80,190],[136,190]]],
    ["#2040d0", [[70,202],[112,202]]], ["#2040d0", [[129,202],[160,171]]],
    ["#2040d0", [[81,213],[130,213],[160,185]]],
    ["#f01010", [[98,224],[140,224],[147,218]]],
    ["#000", [[52,264],[135,264]]],
    ["#f01010", [[112,335],[118,335]]], ["#f01010", [[130,335],[139,315]]],
    ["#f01010", [[107,349],[130,349],[147,340]]],
    [NAVY, [[92,368],[135,368]]],
    [NAVY, [[86,410],[140,410]]],
    ["#a52a2a", [[100,431],[135,431],[190,447]]],
    ["#000", [[58,468],[135,468],[192,457]]],
    ["#505050", [[58,480],[143,480]]],
    ["#a0a0a0", [[58,491],[132,491],[143,505]]],
    ["#d8d8d0", [[58,502],[136,502]]],
    ["#86cefc", [[55,508],[136,508]]], ["#86cefc", [[55,511],[136,511]]],
    ["#ff9a00", [[67,527],[130,527],[170,465]]],
    ["#86cefc", [[54,556],[187,556]]], ["#86cefc", [[54,559],[187,559]]],
    ["#a0a0a0", [[50,571],[192,571]]],
    ["#444", [[40,582],[135,582]]],
    ["#333", [[74,594],[150,594]]],
    ["#ffc000", [[26,605],[216,605],[218,600]]],
    ["#000", [[139,623],[148,623],[157,612]]]
];
svg.selectAll(null).data(leaders).join("path").attr("fill", "none")
    .attr("stroke", d => d[0]).attr("stroke-width", 1)
    .attr("d", d => d3.line()(d[1]));
captions.forEach(c => text(c[0], c[1], c[2], { color: c[3], size: "10.5px", cls: "caption" }));

svg.append("rect").attr("x", 11).attr("y", 505).attr("width", 44).attr("height", 12).attr("fill", "#86cefc");
text("> 0.1 okt.", 11, 515, { color: "#fff", size: "10.5px", cls: "caption" });
svg.append("rect").attr("x", 10).attr("y", 551).attr("width", 41).attr("height", 12).attr("fill", "#86cefc");
text("wysokie", 11, 561, { color: "#fff", size: "10.5px", cls: "caption" });
</script>
</body>
</html>
